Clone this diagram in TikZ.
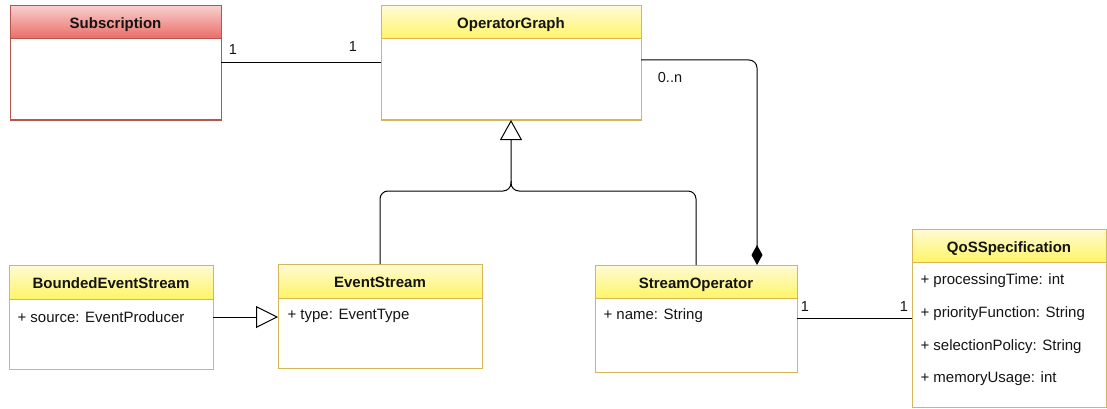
\documentclass[tikz,border=0pt]{standalone}
\usepackage{fontspec}
\setmainfont{Liberation Sans}
\usepackage{tikz}
\usetikzlibrary{positioning,arrows.meta}
\definecolor{yelclr}{RGB}{214,182,86}
\definecolor{yeltop}{RGB}{255,250,214}
\definecolor{yelbot}{RGB}{255,245,102}
\definecolor{redclr}{RGB}{184,84,80}
\definecolor{redtop}{RGB}{248,206,204}
\definecolor{redbot}{RGB}{234,107,102}
\definecolor{txtclr}{RGB}{20,20,20}
\tikzset{ %
  ,>=latex
  ,every node/.style={font=\fontsize{15}{18}\selectfont, text=txtclr}
  ,head/.style={draw=yelclr, top color=yeltop, bottom color=yelbot, inner sep=0, outer sep=0, minimum height=33pt, text height=13pt, text depth=0pt, font=\fontsize{15}{18}\selectfont\bfseries}
  ,redhead/.style={head, draw=redclr, top color=redtop, bottom color=redbot}
  ,body/.style={draw=yelclr, fill=white, inner sep=0, outer sep=0}
  ,redbody/.style={body, draw=redclr}
  ,attr/.style={inner sep=0, anchor=west}
  ,mult/.style={inner sep=0, font=\fontsize{14.5}{17}\selectfont}
  ,line/.style={draw=black, line width=1pt}
}

\begin{document}
\begin{tikzpicture}[x=1pt, y=-1pt, line width=1pt]
      \useasboundingbox (0,0) rectangle (1107,409);
      % classes
      \draw
      node[redhead, anchor=north west, minimum width=211pt] (subhead) at (10,6) {Subscription}
      node[redbody, below=0pt of subhead, minimum width=211pt, minimum height=81pt] (subbody) {};
      \draw
      node[head, anchor=north west, minimum width=260pt] (oghead) at (381,6) {OperatorGraph}
      node[body, below=0pt of oghead, minimum width=260pt, minimum height=81pt] (ogbody) {};
      \draw
      node[head, anchor=north west, minimum width=204pt, minimum height=34pt] (beshead) at (9,265) {BoundedEventStream}
      node[body, below=0pt of beshead, minimum width=204pt, minimum height=70pt] (besbody) {}
      node[attr] at ([xshift=8pt,yshift=-18pt]besbody.north west) {+ source: EventProducer};
      \draw
      node[head, anchor=north west, minimum width=204pt, minimum height=34pt] (eshead) at (278,264) {EventStream}
      node[body, below=0pt of eshead, minimum width=204pt, minimum height=70pt] (esbody) {}
      node[attr] at ([xshift=9pt,yshift=-18pt]esbody.north west) {+ type: EventType};
      \draw
      node[head, anchor=north west, minimum width=202pt] (sohead) at (595,265) {StreamOperator}
      node[body, below=0pt of sohead, minimum width=202pt, minimum height=74pt] (sobody) {}
      node[attr] at ([xshift=8pt,yshift=-18pt]sobody.north west) {+ name: String};
      \draw
      node[head, anchor=north west, minimum width=194pt] (qoshead) at (912,229) {QoSSpecification}
      node[body, below=0pt of qoshead, minimum width=194pt, minimum height=145pt] (qosbody) {};
      \foreach \y/\t in {19/processingTime: int, 52/priorityFunction: String, 85/selectionPolicy: String, 117/memoryUsage: int}
        \node[attr] at ([xshift=8pt,yshift=-\y pt]qosbody.north west) {+ \t};
      % associations
      \coordinate (subout) at ([yshift=-24pt]subbody.north east);
      \draw[line] (subout) -- (subout -| ogbody.west);
      \node[mult] at (233,50) {1};
      \node[mult] at (353,47) {1};
      \coordinate (soout) at ([yshift=-20pt]sobody.north east);
      \draw[line] (soout) -- (soout -| qosbody.west);
      \node[mult] at (805,307) {1};
      \node[mult] at (904,307) {1};
      % composition
      \coordinate (ogout) at ([yshift=-21pt]ogbody.north east);
      \draw[line, rounded corners=8pt, -{Diamond[length=20pt, width=11pt]}] (ogout) -| ([xshift=-40pt]sohead.north east);
      \node[mult] at (670,78) {0..n};
      % generalizations
      \coordinate (gen) at ([yshift=-71pt]ogbody.south);
      \draw[line, rounded corners=8pt, -{Triangle[open, fill=white, length=20pt, width=22pt]}] (eshead.north) |- (gen) -- (ogbody.south);
      \draw[line, rounded corners=8pt] (sohead.north) |- (gen) -- ([yshift=10pt]gen);
      \coordinate (besout) at ([yshift=-18pt]besbody.north east);
      \draw[line, -{Triangle[open, fill=white, length=22pt, width=22pt]}] (besout) -- (besout -| esbody.west);
    \end{tikzpicture}
\end{document}
